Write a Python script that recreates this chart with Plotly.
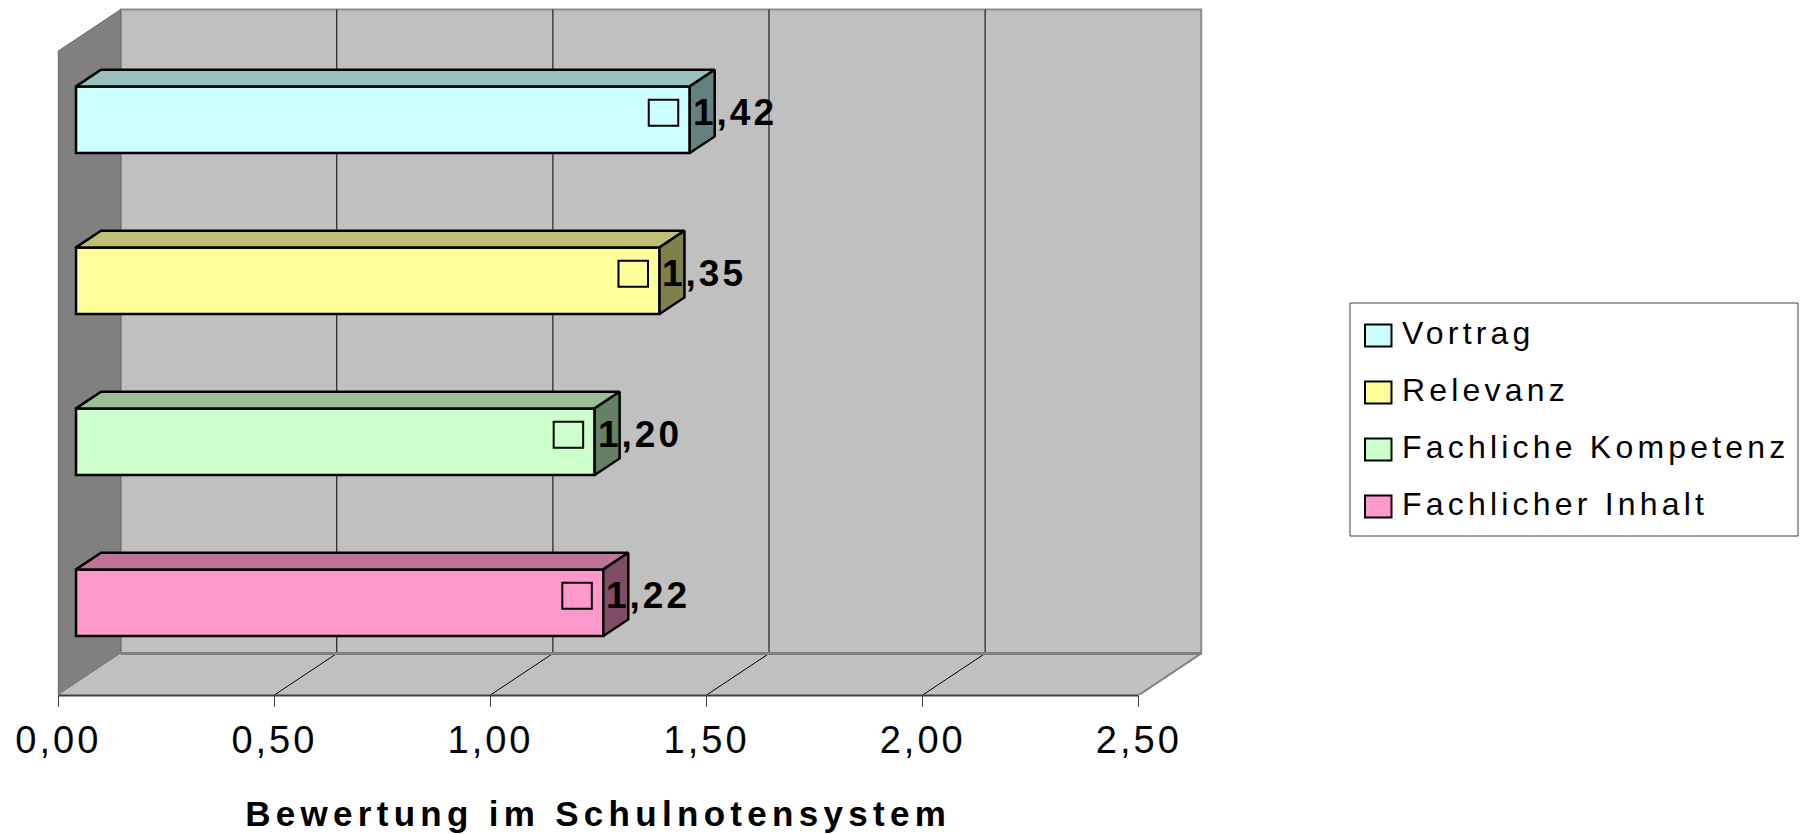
import plotly.graph_objects as go

# ---- data -------------------------------------------------------------
categories = ["Fachlicher Inhalt", "Fachliche Kompetenz", "Relevanz", "Vortrag"]  # bottom -> top
values = [1.22, 1.20, 1.35, 1.42]
front_colors = ["#FF99CC", "#CCFFCC", "#FFFF99", "#CCFFFF"]
top_colors = ["#BF7399", "#99BF99", "#BFBF73", "#99BFBF"]
side_colors = ["#804D66", "#668066", "#80804D", "#668080"]
tick_values = [0.0, 0.5, 1.0, 1.5, 2.0, 2.5]
legend_order = ["Vortrag", "Relevanz", "Fachliche Kompetenz", "Fachlicher Inhalt"]
axis_title = "Bewertung im Schulnotensystem"

# ---- geometry of the pseudo-3D box ------------------------------------
W, H = 1802, 834
FONT = "Liberation Sans, Arial, sans-serif"
X_MAX = 2.5
PX_X = 432.2            # pixels per value unit
PX_Y = 161.0            # pixels per category unit
ORIGIN_X, ORIGIN_Y = 58.3, 695.0   # pixel of (x=0, y=-0.5) on the front plane
DEPTH_X = 62.4 / PX_X   # depth offset of the back wall, in axis units
DEPTH_Y = 41.5 / PX_Y
BAR_FRONT, BAR_BACK = 0.284, 0.684   # depth fractions of the bar faces
BAR_THICK = 0.414
PAD_X, PAD_Y = 0.02, 0.03

n = len(categories)
xr = [-PAD_X, X_MAX + DEPTH_X + PAD_X]
yr = [-0.5, n - 0.5 + DEPTH_Y + PAD_Y]


def px_x(v):
    return ORIGIN_X + v * PX_X


def px_y(v):
    return ORIGIN_Y - (v + 0.5) * PX_Y


x_domain = [px_x(xr[0]) / W, px_x(xr[1]) / W]
y_domain = [1 - px_y(yr[0]) / H, 1 - px_y(yr[1]) / H]


def path(points):
    return "M " + " L ".join(f"{x},{y}" for x, y in points) + " Z"


def fmt(v):
    return f"{v:.2f}".replace(".", ",")


fig = go.Figure()

# front faces of the bars (pushed back into the box by BAR_FRONT of its depth)
base = BAR_FRONT * DEPTH_X
ys = [k + BAR_FRONT * DEPTH_Y for k in range(n)]
fig.add_trace(go.Bar(
    orientation="h", y=ys, x=values, base=[base] * n, width=BAR_THICK,
    marker=dict(color=front_colors, line=dict(color="black", width=2.5)),
    showlegend=False, hoverinfo="skip", cliponaxis=False,
))

# top and right faces
ddx = (BAR_BACK - BAR_FRONT) * DEPTH_X
ddy = (BAR_BACK - BAR_FRONT) * DEPTH_Y
for k, v in enumerate(values):
    x0, x1 = base, base + v
    yt, yb = ys[k] + BAR_THICK / 2, ys[k] - BAR_THICK / 2
    top = [(x0, yt), (x1, yt), (x1 + ddx, yt + ddy), (x0 + ddx, yt + ddy), (x0, yt)]
    side = [(x1, yb), (x1 + ddx, yb + ddy), (x1 + ddx, yt + ddy), (x1, yt), (x1, yb)]
    for pts, col in ((top, top_colors[k]), (side, side_colors[k])):
        fig.add_trace(go.Scatter(
            x=[p[0] for p in pts], y=[p[1] for p in pts], mode="lines",
            fill="toself", fillcolor=col, line=dict(color="black", width=2.5),
            showlegend=False, hoverinfo="skip",
        ))

shapes = []
y_floor, y_top = -0.5, n - 0.5
# back wall
shapes.append(dict(type="rect", xref="x", yref="y", layer="below",
                   x0=DEPTH_X, x1=X_MAX + DEPTH_X, y0=y_floor + DEPTH_Y, y1=y_top + DEPTH_Y,
                   fillcolor="#C0C0C0", line=dict(color="#8C8C8C", width=2)))
# grid lines on the back wall
for t in tick_values[1:-1]:
    shapes.append(dict(type="line", xref="x", yref="y", layer="below",
                       x0=t + DEPTH_X, x1=t + DEPTH_X, y0=y_floor + DEPTH_Y, y1=y_top + DEPTH_Y,
                       line=dict(color="black", width=1)))
# side wall
shapes.append(dict(type="path", xref="x", yref="y", layer="below",
                   path=path([(0, y_floor), (DEPTH_X, y_floor + DEPTH_Y),
                              (DEPTH_X, y_top + DEPTH_Y), (0, y_top)]),
                   fillcolor="#808080", line=dict(color="#6A6A6A", width=1)))
# floor with its grid lines
shapes.append(dict(type="path", xref="x", yref="y", layer="below",
                   path=path([(0, y_floor), (X_MAX, y_floor),
                              (X_MAX + DEPTH_X, y_floor + DEPTH_Y), (DEPTH_X, y_floor + DEPTH_Y)]),
                   fillcolor="#C0C0C0", line=dict(width=0)))
for t in tick_values[1:-1]:
    shapes.append(dict(type="line", xref="x", yref="y", layer="below",
                       x0=t, x1=t + DEPTH_X, y0=y_floor, y1=y_floor + DEPTH_Y,
                       line=dict(color="black", width=1)))
shapes.append(dict(type="line", xref="x", yref="y", layer="below",
                   x0=DEPTH_X, x1=X_MAX + DEPTH_X, y0=y_floor + DEPTH_Y, y1=y_floor + DEPTH_Y,
                   line=dict(color="#808080", width=3)))
shapes.append(dict(type="line", xref="x", yref="y", layer="below",
                   x0=X_MAX, x1=X_MAX + DEPTH_X, y0=y_floor, y1=y_floor + DEPTH_Y,
                   line=dict(color="#808080", width=2)))
# front edge of the floor (value axis line)
shapes.append(dict(type="line", xref="x", yref="paper", layer="above",
                   x0=0, x1=X_MAX, y0=1 - (ORIGIN_Y + 0.5) / H, y1=1 - (ORIGIN_Y + 0.5) / H,
                   line=dict(color="#404040", width=2)))

annotations = []
# data labels with legend key
for k, v in enumerate(values):
    xe = base + v
    shapes.append(dict(type="rect", xref="x", yref="y", layer="above",
                       xsizemode="pixel", ysizemode="pixel", xanchor=xe, yanchor=ys[k],
                       x0=-41, x1=-11.5, y0=-6, y1=20,
                       fillcolor=front_colors[k], line=dict(color="black", width=2)))
    annotations.append(dict(x=xe, y=ys[k], xref="x", yref="y", xanchor="left", yanchor="middle",
                            align="left", xshift=1, yshift=7, showarrow=False, text=fmt(v),
                            font=dict(family=FONT, size=37, color="black", weight="bold")))

# axis title
annotations.append(dict(x=598 / W, y=1 - 813.5 / H, xref="paper", yref="paper",
                        xanchor="center", yanchor="middle", showarrow=False, text=axis_title,
                        font=dict(family=FONT, size=35, color="black", weight="bold")))

# legend
shapes.append(dict(type="rect", xref="paper", yref="paper", layer="above",
                   x0=1350 / W, x1=1798 / W, y0=1 - 536 / H, y1=1 - 303 / H,
                   fillcolor="white", line=dict(color="#404040", width=1)))
for i, name in enumerate(legend_order):
    cy = 335.5 + 57 * i
    k = categories.index(name)
    shapes.append(dict(type="rect", xref="paper", yref="paper", layer="above",
                       x0=1365 / W, x1=1391.5 / W, y0=1 - (cy + 11) / H, y1=1 - (cy - 11) / H,
                       fillcolor=front_colors[k], line=dict(color="black", width=2)))
    annotations.append(dict(x=1400 / W, y=1 - (cy - 2.7) / H, xref="paper", yref="paper",
                            xanchor="left", yanchor="middle", align="left", showarrow=False,
                            text=name, font=dict(family=FONT, size=32, color="black")))

fig.update_layout(
    width=W, height=H, margin=dict(l=0, r=0, t=0, b=0, autoexpand=False),
    paper_bgcolor="white", plot_bgcolor="rgba(0,0,0,0)",
    separators=",.", showlegend=False, barmode="overlay",
    shapes=shapes, annotations=annotations,
    xaxis=dict(domain=x_domain, range=xr, automargin=False,
               showgrid=False, zeroline=False, showline=False,
               tickvals=tick_values, tickformat=".2f",
               ticks="outside", ticklen=11, tickwidth=1, tickcolor="#404040",
               ticklabelstandoff=0,
               tickfont=dict(family=FONT, size=38, color="black"), fixedrange=True),
    yaxis=dict(domain=y_domain, range=yr, visible=False, automargin=False, fixedrange=True),
)

# wider character tracking for the chart texts, keyed by font size
tracking_js = """
var sp = {'38': '3px', '37': '3px', '35': '5.3px', '32': '4.2px'};
document.getElementById('{plot_id}').querySelectorAll('text').forEach(function(t){
  var s = sp[String(parseFloat(t.style.fontSize))];
  if (s) { t.style.letterSpacing = s; }
});
"""

fig.write_html("out.html", config={"displayModeBar": False, "staticPlot": True},
               post_script=tracking_js)
